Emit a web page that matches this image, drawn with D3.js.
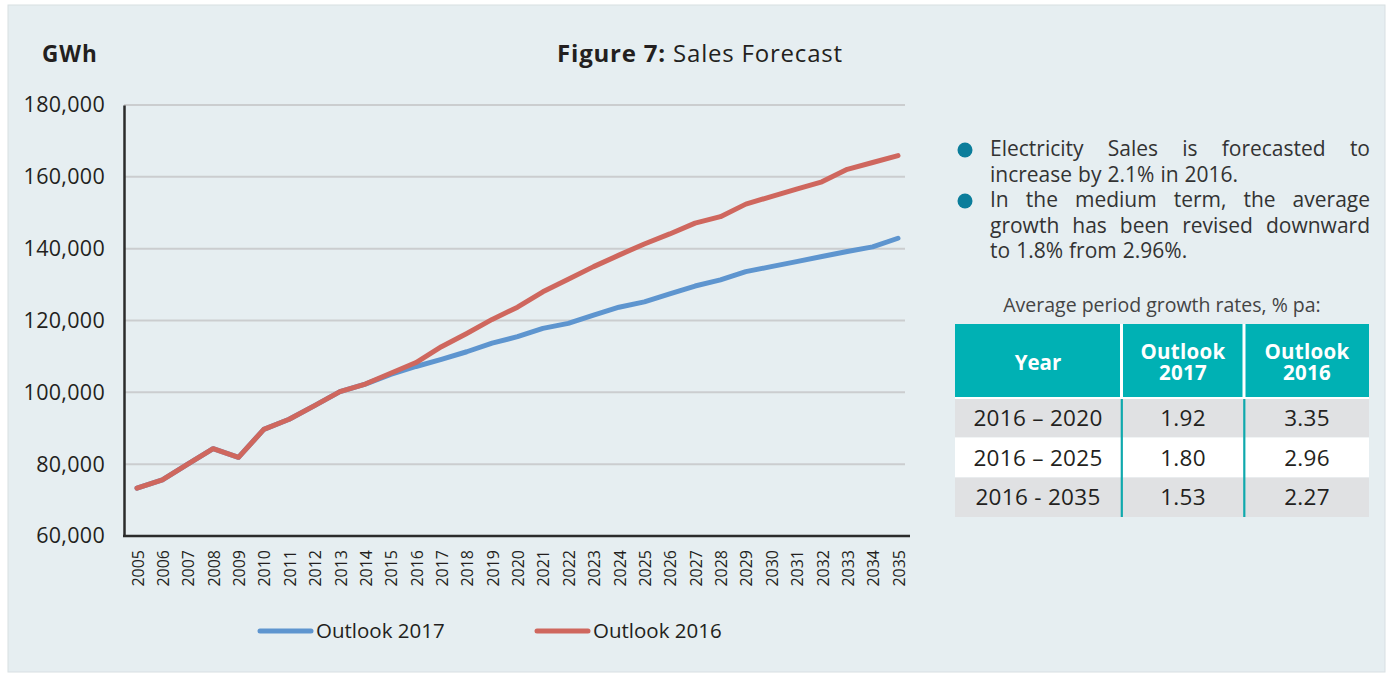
<!DOCTYPE html>
<html><head><meta charset="utf-8">
<script src="https://cdn.jsdelivr.net/npm/d3@7"></script>
<style>
html,body{margin:0;padding:0;background:#fff;}
svg{display:block;}
text{font-family:"Open Sans",sans-serif;}
</style></head>
<body>
<svg id="c" width="1391" height="676"></svg>
<script>
const years = d3.range(2005, 2036);
const outlook2017 = [73300,75600,80000,84300,81900,89700,92500,96300,100200,102300,
  105000,107200,109200,111300,113700,115500,117800,119200,121500,123700,
  125200,127400,129600,131300,133600,135000,136400,137800,139200,140500,142900];
const outlook2016 = [73300,75600,80000,84300,81900,89700,92500,96300,100200,102300,
  105300,108300,112700,116400,120300,123700,128000,131500,135000,138200,
  141300,144100,147100,148900,152400,154500,156600,158600,162100,164000,165900];
const seriesNames = ["Outlook 2017","Outlook 2016"];
const seriesColors = ["#5e95cf","#cf675e"];
const yTicks = [60000,80000,100000,120000,140000,160000,180000];

const bulletParas = [
  ["Electricity Sales is forecasted to", "increase by 2.1% in 2016."],
  ["In the medium term, the average", "growth has been revised downward", "to 1.8% from 2.96%."]
];
const tableCaption = "Average period growth rates, % pa:";
const tableHeader = [["Year"],["Outlook","2017"],["Outlook","2016"]];
const tablePeriods = ["2016 \u2013 2020","2016 \u2013 2025","2016 - 2035"];
const table2017 = ["1.92","1.80","1.53"];
const table2016 = ["3.35","2.96","2.27"];

const svg = d3.select("#c");
const ink = "#231f20";

svg.append("rect").attr("x",8).attr("y",5).attr("width",1377).attr("height",667)
  .attr("fill","#e6eef1").attr("stroke","#d8dfe2").attr("stroke-width",1);

const x = d3.scaleLinear().domain([2005,2035]).range([137,898]);
const y = d3.scaleLinear().domain([60000,180000]).range([536,105]);

// gridlines
svg.append("g").selectAll("line").data(yTicks.filter(d=>d>60000)).join("line")
  .attr("x1",124).attr("x2",905).attr("y1",d=>y(d)).attr("y2",d=>y(d))
  .attr("stroke","#cbcdcf").attr("stroke-width",2);

// y axis
const yAxis = svg.append("g").attr("transform","translate(124,0)")
  .call(d3.axisLeft(y).tickValues(yTicks).tickFormat(d3.format(",")).tickSize(0).tickPadding(19));
yAxis.select(".domain").attr("stroke","#2b2b2b").attr("stroke-width",2.5);
yAxis.selectAll("text").attr("font-size",21.5).attr("letter-spacing",0.3).attr("fill",ink)
  .attr("font-family","'Open Sans',sans-serif");

// x axis
const xAxis = svg.append("g").attr("transform","translate(0,536)")
  .call(d3.axisBottom(x).tickValues(years).tickFormat(d3.format("d")).tickSize(0));
xAxis.select(".domain").attr("d","M123,0H910").attr("stroke","#2b2b2b").attr("stroke-width",2.5);
xAxis.selectAll("text").attr("font-size",16).attr("fill",ink)
  .attr("font-family","'Liberation Sans',Arial,sans-serif")
  .attr("transform","rotate(-90)").attr("text-anchor","end")
  .attr("x",-14).attr("y",0).attr("dy","0.35em").attr("dx",0);
xAxis.selectAll(".tick").attr("transform",d=>`translate(${x(d)+1},0)`);

// lines
const line = d3.line().x((d,i)=>x(years[i])).y(d=>y(d));
[outlook2017, outlook2016].forEach((s,i)=>{
  svg.append("path").attr("d",line(s)).attr("fill","none")
    .attr("stroke",seriesColors[i]).attr("stroke-width",5)
    .attr("stroke-linecap","round").attr("stroke-linejoin","round");
});

// titles
svg.append("text").attr("x",42).attr("y",62).attr("font-size",22.5).attr("font-weight",700)
  .attr("letter-spacing",1).attr("fill",ink).text("GWh");
const t = svg.append("text").attr("x",700).attr("y",62).attr("text-anchor","middle")
  .attr("font-size",24).attr("letter-spacing",0.8).attr("fill",ink);
t.append("tspan").attr("font-weight",700).text("Figure 7:");
t.append("tspan").text(" Sales Forecast");

// legend
const legX = [260, 537];
seriesNames.forEach((n,i)=>{
  svg.append("line").attr("x1",legX[i]).attr("x2",legX[i]+51).attr("y1",631).attr("y2",631)
    .attr("stroke",seriesColors[i]).attr("stroke-width",5).attr("stroke-linecap","round");
  svg.append("text").attr("x",legX[i]+56).attr("y",638).attr("font-size",20.5).attr("fill",ink).text(n);
});

// bullets (justified)
const bx0 = 990, bx1 = 1370, lh = 25.5;
let lineY = 156;
bulletParas.forEach(para=>{
  svg.append("circle").attr("cx",965).attr("cy",lineY-6).attr("r",7.5).attr("fill","#0b7d9b");
  para.forEach((ln,li)=>{
    const words = ln.split(" ");
    const last = li===para.length-1;
    const g = svg.append("g");
    const nodes = words.map(w=>g.append("text").attr("y",lineY).attr("font-size",21)
      .attr("fill","#333").text(w));
    const widths = nodes.map(n=>n.node().getComputedTextLength());
    const total = d3.sum(widths);
    const gap = last ? 6 : (bx1-bx0-total)/(words.length-1);
    let cx = bx0;
    nodes.forEach((n,k)=>{ n.attr("x",cx); cx += widths[k]+gap; });
    lineY += lh;
  });
});

// table
svg.append("text").attr("x",1162).attr("y",312).attr("text-anchor","middle")
  .attr("font-size",19.5).attr("fill","#444").text(tableCaption);
const colC = [1038,1183,1307];
svg.append("rect").attr("x",955).attr("y",324).attr("width",414).attr("height",73).attr("fill","#00b1b4");
[1121.5,1244].forEach(cx=>svg.append("rect").attr("x",cx-1.5).attr("y",324).attr("width",3).attr("height",73).attr("fill","#fff"));
svg.append("rect").attr("x",955).attr("y",397).attr("width",414).attr("height",2).attr("fill","#fff");
tableHeader.forEach((h,i)=>{
  if(h.length===1){
    svg.append("text").attr("text-anchor","middle").attr("font-size",20.5)
      .attr("font-weight",700).attr("fill","#fff").attr("x",colC[i]).attr("y",370).text(h[0]);
  } else h.forEach((s,k)=>{
    svg.append("text").attr("text-anchor","middle").attr("font-size",20.5).attr("letter-spacing",0.3)
      .attr("font-weight",700).attr("fill","#fff").attr("x",colC[i]).attr("y",359+k*20.5).text(s);
  });
});
const rowTop = [399,437.5,477.5], rowH = [38.5,40,39.5];
const rowFill = ["#e0e1e3","#ffffff","#e0e1e3"];
tablePeriods.forEach((p,r)=>{
  svg.append("rect").attr("x",955).attr("y",rowTop[r]).attr("width",414).attr("height",rowH[r]).attr("fill",rowFill[r]);
});
[1121.8,1244.3].forEach(cx=>svg.append("line").attr("x1",cx).attr("x2",cx).attr("y1",399).attr("y2",517)
  .attr("stroke","#0fa9ad").attr("stroke-width",2.2));
tablePeriods.forEach((p,r)=>{
  const cy = rowTop[r]+rowH[r]/2+8;
  [p, table2017[r], table2016[r]].forEach((v,c)=>{
    svg.append("text").attr("x",colC[c]).attr("y",cy).attr("text-anchor","middle")
      .attr("font-size",22.5).attr("letter-spacing",0.3).attr("fill",ink).text(v);
  });
});
</script>
</body></html>
